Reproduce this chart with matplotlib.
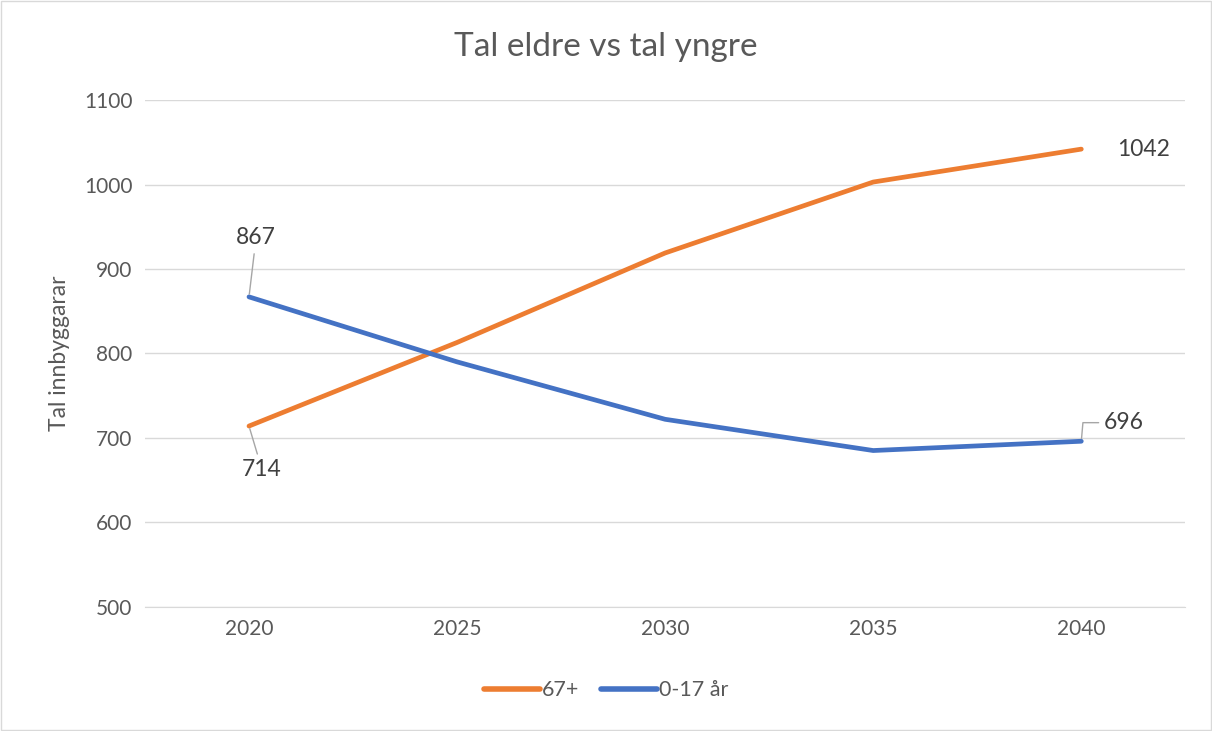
import matplotlib.pyplot as plt

plt.rcParams['font.family'] = ['Lato', 'DejaVu Sans']

years = ['2020', '2025', '2030', '2035', '2040']
eldre = [714, 813, 919, 1003, 1042]
yngre = [867, 790, 722, 685, 696]

fig = plt.figure(figsize=(12.12, 7.31), dpi=100)
ax = fig.add_axes([0.1196, 0.170, 0.8584, 0.693])
x = range(len(years))
ax.plot(x, eldre, color='#ED7D31', lw=3.4, solid_capstyle='round', label='67+')
ax.plot(x, yngre, color='#4472C4', lw=3.4, solid_capstyle='round', label='0-17 år')

ax.set_xlim(-0.5, 4.5)
ax.set_ylim(500, 1100)
ax.set_yticks(range(500, 1101, 100))
ax.set_xticks(list(x))
ax.set_xticklabels(years)
ax.grid(axis='y', color='#D9D9D9', lw=1)
ax.set_axisbelow(True)
for s in ['top', 'right', 'left']:
    ax.spines[s].set_visible(False)
ax.spines['bottom'].set_color('#D9D9D9')
ax.tick_params(length=0, labelsize=15, colors='#595959', pad=9)
ax.set_ylabel('Tal innbyggarar', fontsize=16.5, color='#595959', labelpad=10)

fig.text(0.5, 0.936, 'Tal eldre vs tal yngre', ha='center', va='center',
         fontsize=24, color='#595959')

lead = dict(arrowstyle='-', color='#A6A6A6', lw=1)
ax.annotate(str(yngre[0]), (0, yngre[0]), xytext=(0.034, 937), fontsize=16.5,
            color='#404040', ha='center', va='center', arrowprops=lead)
ax.annotate(str(eldre[0]), (0, eldre[0]), xytext=(0.063, 662), fontsize=16.5,
            color='#404040', ha='center', va='center', arrowprops=lead)
ax.annotate(str(eldre[4]), (4, eldre[4]), xytext=(4.17, 1041), fontsize=16.5,
            color='#404040', ha='left', va='center')
ax.annotate(str(yngre[4]), (4, yngre[4]), xytext=(4.11, 718), fontsize=16.5,
            color='#404040', ha='left', va='center',
            arrowprops=dict(arrowstyle='-', color='#A6A6A6', lw=1,
                            connectionstyle='angle,angleA=0,angleB=85,rad=0'))

leg = fig.legend(loc='center', bbox_to_anchor=(0.5, 0.056), ncol=2, frameon=False,
                 fontsize=15.5, labelcolor='#595959', handlelength=2.6,
                 columnspacing=1.0, handletextpad=0.1)
for h in leg.get_lines():
    h.set_linewidth(4)
    h.set_solid_capstyle('round')

fig.patches.append(plt.Rectangle((0.001, 0.001), 0.998, 0.998, transform=fig.transFigure,
                                 fill=False, edgecolor='#D9D9D9', lw=1))
fig.savefig('out.png', dpi=100)
